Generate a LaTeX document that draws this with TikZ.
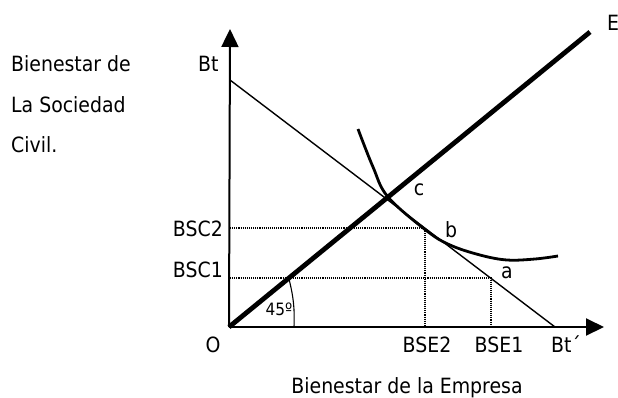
\documentclass[tikz,border=0pt]{standalone}
\usepackage{fontspec}
\setmainfont{DejaVu Sans Condensed}
\usetikzlibrary{arrows.meta}
\begin{document}
\begin{tikzpicture}[x=1pt,y=-1pt,
  lbl/.style={font=\fontsize{21}{24}\selectfont, inner sep=0pt, anchor=base},
  axis/.style={line width=2pt, -{Triangle[width=17pt,length=18pt]}},
  guide/.style={densely dotted, line width=1.1pt},
  thin/.style={line width=1.4pt},
  thick45/.style={line width=4.8pt},
  curve/.style={line width=2.8pt}]
\useasboundingbox (0,0) rectangle (618,397);
% coordinates
\coordinate (O) at (229,327);
\coordinate (Ytip) at (230,29);
\coordinate (Xtip) at (604,327);
\coordinate (Bt) at (230,80);
\coordinate (Btp) at (555,327);
\coordinate (Eend) at (590,32);
\coordinate (B) at (425,228);
\coordinate (A) at (491,278);
\coordinate (Y2) at (230,228);
\coordinate (Y1) at (230,278);
\coordinate (X2) at (425,327);
\coordinate (X1) at (491,327);
\coordinate (P45) at (289,279);
\coordinate (Q45) at (294,327);
% axes
\draw[axis] (O) -- (Ytip);
\draw[axis] (O) -- (Xtip);
% guides
\draw[guide] (Y2) -- (B) -- (X2);
\draw[guide] (Y1) -- (A) -- (X1);
% budget line
\draw[thin] (Bt) -- (Btp);
% 45 degree line
\draw[thick45] (O) -- (Eend);
% angle arc
\draw[line width=1.1pt] (P45) to[bend left=8] (Q45);
% indifference curve
\draw[curve] plot[smooth, tension=0.6] coordinates {(358,129) (373,167) (388,197) (427,231) (450,245) (480,255) (507,260) (535,259) (558,256)};
% labels
\node[lbl, anchor=base west] (t1) at (11,71) {Bienestar de};
\node[lbl, anchor=base west] (t2) at (11,112) {La Sociedad};
\node[lbl, anchor=base west] (t3) at (11,152) {Civil.};
\node[lbl, anchor=base west] (lBt) at (198,71) {Bt};
\node[lbl, anchor=base west] (lE) at (607,30) {E};
\node[lbl] (lc) at (419,195) {c};
\node[lbl] (lb) at (451,237) {b};
\node[lbl] (la) at (507,278) {a};
\node[lbl, anchor=base east] (lS2) at (223,236) {BSC2};
\node[lbl, anchor=base east] (lS1) at (223,277) {BSC1};
\node[lbl, font=\fontsize{17}{20}\selectfont] (l45) at (279,315) {45º};
\node[lbl] (lO) at (213,352) {O};
\node[lbl] (lE2) at (427,352) {BSE2};
\node[lbl] (lE1) at (499,352) {BSE1};
\node[lbl] (lBtp) at (566,352) {Bt´};
\node[lbl] (lx) at (407,393) {Bienestar de la Empresa};
\end{tikzpicture}
\end{document}
